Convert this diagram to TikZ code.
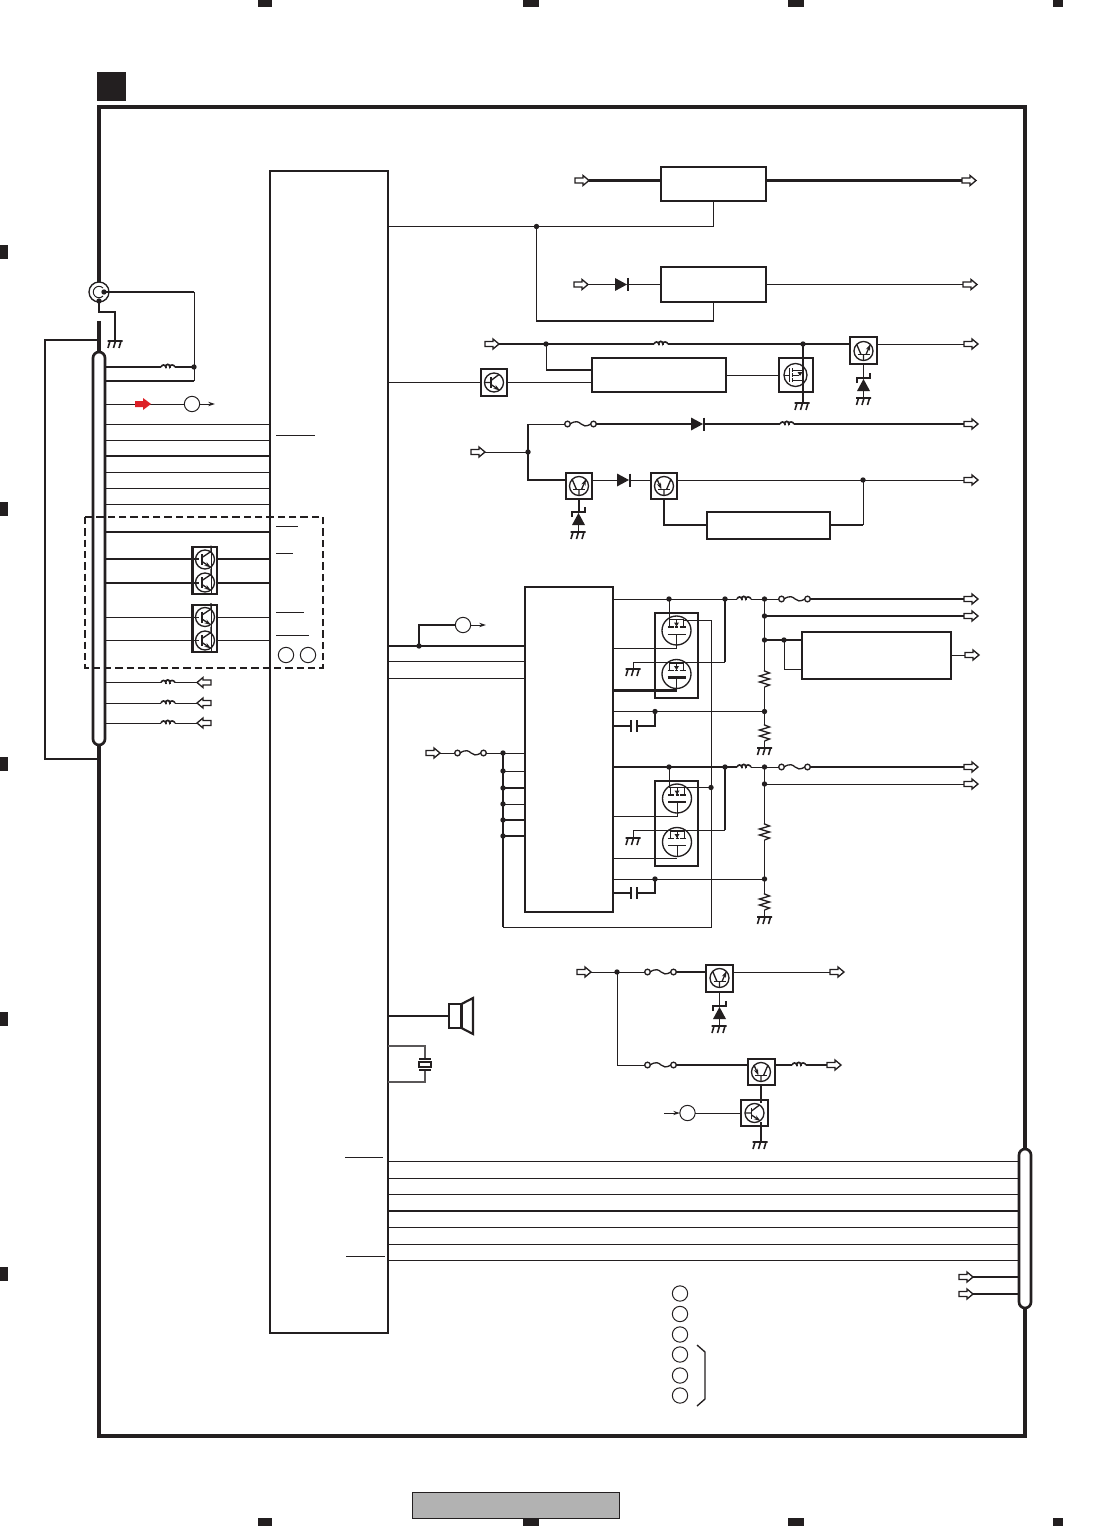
\documentclass[tikz,border=0pt]{standalone}
\usetikzlibrary{fit,arrows.meta,shapes.geometric}
\definecolor{ink}{HTML}{231F20}
\definecolor{redarrow}{HTML}{DD2027}
\definecolor{footer}{HTML}{B2B2B2}
\tikzset{
  wa/.style={line width=.75pt,draw=ink},
  wb/.style={line width=1.6pt,draw=ink},
  wc/.style={line width=1.2pt,draw=ink},
  blk/.style={draw=ink,line width=1.6pt,fill=white,inner sep=0pt,outer sep=0pt},
  ring/.style={circle,draw=ink,line width=.75pt,fill=white,minimum size=11.5pt,inner sep=0pt,outer sep=0pt},
  tip/.style={-{Stealth[length=5pt,width=3.2pt]}},
  busbar/.style={draw=ink,line width=2pt,fill=white,rounded corners=4.5pt}
}
\newcommand{\Blk}[5]{\node[blk,fit={(#2,#3)(#4,#5)}] (#1) {};}
\newcommand{\Dotx}[2]{\fill[ink] (#1,#2) circle[radius=2.7];}
\newcommand{\ArrR}[2]{\draw[wa,line width=1pt,fill=white,line join=miter] (#1,#2-2.5) -- ++(8,0) -- ++(0,-2.5) -- ++(6,5) -- ++(-6,5) -- ++(0,-2.5) -- ++(-8,0) -- cycle;}
\newcommand{\ArrL}[2]{\draw[wa,line width=1pt,fill=white,line join=miter] (#1,#2-2.5) -- ++(-8,0) -- ++(0,-2.5) -- ++(-6,5) -- ++(6,5) -- ++(0,-2.5) -- ++(8,0) -- cycle;}
\newcommand{\Gnd}[2]{\begin{scope}[shift={(#1,#2)}]\draw[wc] (-7.5,0)--(7.5,0) (-5,0)--(-7,7) (0.5,0)--(-1.5,7) (6,0)--(4,7);\end{scope}}
\newcommand{\Ind}[2]{\begin{scope}[shift={(#1,#2)}]\draw[wc] (0,0) .. controls (1,-2.5) and (4,-3) .. (4.8,0) .. controls (4.8,-3.5) and (8.6,-3.5) .. (8.8,0) .. controls (9,-3) and (13,-2.5) .. (14,0); \draw[wc] (4.8,0)--(4.8,1) (8.8,0)--(8.8,1);\end{scope}}
\newcommand{\Fuse}[2]{\begin{scope}[shift={(#1,#2)}]\draw[wa,line width=1pt] (5,0) .. controls (11,-4) and (14,-2) .. (16,0) .. controls (18,2) and (21,3) .. (26,0); \draw[wa,line width=1pt,fill=white] (2.5,0) circle[radius=2.8] (28.5,0) circle[radius=2.8];\end{scope}}
\newcommand{\Diode}[2]{\begin{scope}[shift={(#1,#2)}]\fill[ink] (0,-6.5)--(12,0)--(0,6.5)--cycle; \draw[ink,line width=1.5pt] (12.5,-6.5)--(12.5,6.5);\end{scope}}
\newcommand{\Zener}[2]{\begin{scope}[shift={(#1,#2)}]\draw[wc] (-6.5,5)--(-6.5,0)--(6.5,0)--(6.5,-5); \fill[ink] (0,1)--(-6.5,13)--(6.5,13)--cycle;\draw[wc] (0,13)--(0,20);\end{scope}}
\newcommand{\TrK}[2]{\begin{scope}[shift={(#1,#2)}]\draw[wa,line width=1pt] (0,0) circle[radius=9.5]; \draw[wc] (-3,-5.5)--(-3,5.5); \draw[wa,line width=1pt] (-9,0)--(-3,0) (-3,-2)--(5,-8); \draw[wa,line width=1pt,tip] (-3,2)--(6,8);\end{scope}}
\newcommand{\TrKr}[2]{\begin{scope}[shift={(#1,#2)}]\draw[wa,line width=1pt] (0,0) circle[radius=9.5]; \draw[wc] (-3,-5.5)--(-3,5.5); \draw[wa,line width=1pt] (-3,-2)--(6,-8) (6,-8)--(6,-14); \draw[wa,line width=1pt,tip] (-3,2)--(6,8);\end{scope}}
\newcommand{\TrUr}[2]{\begin{scope}[shift={(#1,#2)}]\draw[wa,line width=1pt] (0,0) circle[radius=9.5]; \draw[wc] (-6,3.5)--(6,3.5); \draw[wa,line width=1pt] (0,3.5)--(0,9.5) (-2.5,3.5)--(-7,-7); \draw[wa,line width=1pt,tip] (2.5,3.5)--(7,-7);\end{scope}}
\newcommand{\TrUl}[2]{\begin{scope}[shift={(#1,#2)}]\draw[wa,line width=1pt] (0,0) circle[radius=9.5]; \draw[wc] (-6,3.5)--(6,3.5); \draw[wa,line width=1pt] (0,3.5)--(0,9.5) (2.5,3.5)--(7,-7); \draw[wa,line width=1pt,tip] (-7,-7)--(-2.5,3.5);\end{scope}}
\newcommand{\MosF}[3]{\begin{scope}[shift={(#1,#2)}]\draw[wa,line width=1pt] (0,0) circle[radius=14.5]; \draw[wc] (-9,-3.5)--(-3,-3.5) (-1.5,-3.5)--(1.5,-3.5) (3,-3.5)--(9,-3.5); \draw[#3] (-9,3.5)--(9,3.5); \draw[wa] (-7,-11)--(-7,-3.5) (7,-11)--(7,-3.5) (0,3.5)--(0,14.5); \fill[ink] (-2.5,-8)--(2.5,-8)--(0,-4)--cycle; \draw[wa] (0,-11)--(0,-4) (-7,-11)--(7,-11);\end{scope}}
\newcommand{\Res}[2]{\draw[wa,line width=1pt] (#1,#2) -- ++(0,1) -- ++(5,2) -- ++(-10,3) -- ++(10,3) -- ++(-10,3) -- ++(10,3) -- ++(-5,2);}
\begin{document}
\begin{tikzpicture}[x=.75pt,y=-.75pt]
\useasboundingbox (0,0) rectangle (1104,1526);
% crop marks
\foreach \a/\b in {258/272,523/539,788/804,1053/1063}{
  \fill[ink] (\a,0) rectangle (\b,7);
  \fill[ink] (\a,1518) rectangle (\b,1526);}
\foreach \a in {245,502,757,1012,1267}{\fill[ink] (0,\a) rectangle (8,\a+14);}
\fill[ink] (97,72) rectangle (126,101);
\draw[draw=ink,line width=.5pt,fill=footer] (412,1492) rectangle (619.5,1518);
% frame
\draw[ink,line width=2.6pt,line join=miter] (99,282)--(99,107)--(1025,107)--(1025,1436)--(99,1436)--(99,745);
\draw[ink,line width=2.3pt] (99,321)--(99,352);
% main blocks
\Blk{ic}{270}{171}{388}{1333}
\Blk{bA}{661}{167}{766}{201}
\Blk{bB}{661}{267}{766}{302}
\Blk{bC}{592}{358}{726}{392}
\Blk{bD}{707}{512}{830}{539}
\Blk{icb}{525}{587}{613}{912}
\Blk{bE}{802}{632}{951}{679}
% --- top regulators
\draw[wb] (589,180.5)--(bA.west |- 0,180.5);
\draw[wb] (bA.east |- 0,180.5)--(962,180.5);
\ArrR{575}{180.5}\ArrR{962}{180.5}
\draw[wa] (ic.east |- 0,226.5)--(713.5,226.5)--(bA.south -| 713.5,0);
\draw[wb,line width=1.1pt] (536.5,226.5)--(536.5,321)--(713.5,321)--(bB.south -| 713.5,0);
\Dotx{536.5}{226.5}
\ArrR{574}{284.5}\draw[wa] (588,284.5)--(615,284.5);\Diode{615}{284.5}\draw[wa] (628,284.5)--(bB.west |- 0,284.5);
\draw[wa] (bB.east |- 0,284.5)--(963,284.5);\ArrR{963}{284.5}
% --- row 3
\ArrR{485}{344}
\draw[wb] (499,344)--(654,344) (668,344)--(850,344);
\Ind{654}{344}
\Dotx{546}{344}\Dotx{803}{344}
\draw[wa] (546,344)--(546,370);\draw[wb] (546,370)--(bC.west |- 0,370);
\draw[wa] (ic.east |- 0,382)--(481,382);
\Blk{qA}{481}{369}{507}{396}\TrK{494}{382.5}
\draw[wa] (qA.east |- 0,382)--(bC.west |- 0,382);
\draw[wa] (bC.east |- 0,375)--(785,375);
\Blk{qB}{779}{358}{813}{392}
\begin{scope}[shift={(795.5,375)}]
  \draw[wa,line width=1pt] (0,0) circle[radius=11.5];
  \draw[wa] (-11.5,0)--(-6,0);
  \draw[wc] (-6,-7)--(-6,7) (-3,-7)--(-3,-3) (-3,-2)--(-3,2) (-3,3)--(-3,7);
  \draw[wa] (-3,-5)--(7,-5) (-3,5)--(7,5) (-3,0)--(3,0);
  \fill[ink] (2,-3)--(7,-3)--(4.5,1)--cycle;
\end{scope}
\draw[wb,line width=1.3pt] (803,344)--(803,403);\Gnd{802}{403}
\Blk{qC}{850}{337}{877}{364}\TrUr{863.5}{351}
\draw[wa] (qC.east |- 0,344)--(964,344);\ArrR{964}{344}
\draw[wa] (863.5,364)--(863.5,378);\Zener{863.5}{378}\Gnd{863.5}{398}
% --- row 4
\ArrR{471}{452}\draw[wa] (485,452)--(528,452);
\draw[wb] (528,424)--(528,480)--(566,480);
\draw[wa] (528,424)--(565,424);\Dotx{528}{452}
\Fuse{565}{424}
\draw[wb] (596,424)--(691,424);\Diode{691}{424}\draw[wb] (704,424)--(780,424);
\Ind{780}{424}\draw[wb] (794,424)--(964,424);\ArrR{964}{424}
\Blk{qD}{566}{473}{592}{499}\TrUr{579}{486}
\draw[wa] (qD.east |- 0,480)--(617,480);\Diode{617}{480}\draw[wa] (630,480)--(651,480);
\Blk{qE}{651}{473}{677}{499}\TrUl{664}{486}
\draw[wa] (qE.east |- 0,480)--(964,480);\ArrR{964}{480}
\Dotx{863}{480}
\draw[wa] (863,480)--(863,525);\draw[wb] (863,525)--(bD.east |- 0,525);
\draw[wc] (qE.south)--(664,525)--(bD.west |- 0,525);
\draw[wa,line width=1pt] (579,499)--(579,512);\Zener{578.5}{512}\Gnd{578}{532}
% --- left connector
\draw[ink,line width=1pt,fill=white] (99,292) circle[radius=10];
\draw[ink,line width=.7pt] (103,288) arc[start angle=-45,end angle=-315,radius=5.7];
\Dotx{104}{292}\Dotx{99}{301}
\draw[wb] (104,292)--(194,292);\draw[wa] (194,292)--(194,381);
\draw[wb] (194,381)--(106,381);
\draw[wb] (106,367)--(161,367) (175,367)--(194,367);\Ind{161}{367}\Dotx{194}{367}
\draw[wc] (99,301)--(99,312)--(115,312)--(115,341);\Gnd{115}{341}
\draw[wc] (99,340)--(45,340)--(45,759)--(99,759);
\draw[ink,line width=2.3pt] (99,745)--(99,770);
\node[busbar,fit={(93,352)(105,745)},inner sep=0pt] (busL) {};
\draw[wa] (busL.east |- 0,404)--(185,404);
\fill[redarrow] (135,401)--(143,401)--(143,398)--(151,404)--(143,410)--(143,407)--(135,407)--cycle;
\node[ring] (rA) at (192,404) {};
\draw[wa,tip] (rA.east)--(215,404);
\foreach \yy in {424.5,440,472,488,504,617.5,640}{\draw[wa] (busL.east |- 0,\yy)--(ic.west |- 0,\yy);}
\foreach \yy in {456,532,559,583}{\draw[wb,line width=1.4pt] (busL.east |- 0,\yy)--(ic.west |- 0,\yy);}
\draw[wa] (276,435)--(315,435) (276,526)--(298,526) (276,553)--(293,553) (276,612)--(304,612) (276,635)--(309,635);
\Blk{qF}{192.5}{547}{217}{594}
\Blk{qG}{192.5}{605}{217}{652}
\draw[wb,line width=1.4pt] (busL.east |- 0,559)--(199,559) (busL.east |- 0,583)--(199,583) (qF.east |- 0,559)--(ic.west |- 0,559) (qF.east |- 0,583)--(ic.west |- 0,583);
\draw[wa] (busL.east |- 0,617.5)--(199,617.5) (busL.east |- 0,640)--(199,640) (qG.east |- 0,617.5)--(ic.west |- 0,617.5) (qG.east |- 0,640)--(ic.west |- 0,640);
\TrKr{205}{559.5}\TrKr{205}{582.5}\TrKr{205}{617}\TrKr{205}{640.5}
\draw[wa] (211,547)--(211,594) (211,605)--(211,652);
\node[ring] (rB) at (286,655) {};\node[ring] (rC) at (308,655) {};
\draw[draw=ink,line width=.85pt,dash pattern=on 5.5pt off 3pt] (85,517) rectangle (323,668);
\foreach \yy in {682.5,703,723}{
  \draw[wa] (busL.east |- 0,\yy)--(161,\yy) (175,\yy)--(197,\yy);
  \Ind{161}{\yy}\ArrL{211}{\yy}}
% --- second IC connections
\draw[wb] (ic.east |- 0,646)--(icb.west |- 0,646);
\draw[wa] (ic.east |- 0,661)--(icb.west |- 0,661) (ic.east |- 0,678)--(icb.west |- 0,678);
\Dotx{419}{646}
\node[ring] (rD) at (463,625) {};
\draw[wc] (419,646)--(419,625)--(rD.west);
\draw[wa,tip] (rD.east)--(486,625);
\ArrR{426}{753}\draw[wa] (440,753)--(455,753);\Fuse{455}{753}
\draw[wa] (486,753)--(icb.west |- 0,753);
\draw[wa] (711,620)--(711,927)--(503,927);
\draw[wb,line width=1.4pt] (503,753)--(503,927);
\foreach \yy in {753,771,788,804,820,836}{\Dotx{503}{\yy}}
\draw[wa] (503,771)--(525,771) (503,804)--(525,804);
\draw[wb] (503,788)--(525,788) (503,820)--(525,820) (503,836)--(525,836);
% upper half-bridge
\draw[wa] (icb.east |- 0,599)--(737,599);
\Ind{737}{599}\draw[wa] (751,599)--(779,599);\Fuse{779}{599}
\draw[wb] (810,599)--(964,599);\ArrR{964}{599}
\Dotx{669}{599}\Dotx{725}{599}\Dotx{764.5}{599}
\Blk{mA}{655}{613}{698}{698}
\MosF{676.5}{630.5}{wa}\MosF{676.5}{674}{wb}
\draw[wa] (669,599)--(669,620) (683.5,620)--(711,620);
\draw[wb] (725,599)--(725,662);
\draw[wa] (725,662)--(633.5,662)--(633.5,669);\Gnd{633}{669}
\draw[wa] (icb.east |- 0,648)--(676.5,648)--(676.5,645);
\draw[wb] (icb.east |- 0,690.5)--(676.5,690.5);
\draw[wa] (icb.east |- 0,711.5)--(764.5,711.5);
\Dotx{655}{711.5}\Dotx{764.5}{711.5}
\draw[wb] (icb.east |- 0,726)--(631,726) (637,726)--(655,726)--(655,711.5);
\draw[wb] (631,720)--(631,732) (637,720)--(637,732);
\draw[wb,line width=1.1pt] (764.5,599)--(764.5,670);
\Res{764.5}{670}
\draw[wa,line width=1.1pt] (764.5,687)--(764.5,724);\Res{764.5}{724}\Gnd{764.5}{748}
\draw[wa] (764.5,741)--(764.5,748);
\Dotx{764.5}{616}\draw[wb] (764.5,616)--(964,616);\ArrR{964}{616}
\Dotx{764.5}{640}\Dotx{784}{640}
\draw[wb] (764.5,640)--(bE.west |- 0,640);
\draw[wa] (784,640)--(784,669)--(bE.west |- 0,669);
\draw[wa] (bE.east |- 0,655)--(965,655);\ArrR{965}{655}
% lower half-bridge
\draw[wb] (icb.east |- 0,767)--(737,767);
\Ind{737}{767}\draw[wa] (751,767)--(779,767);\Fuse{779}{767}
\draw[wb] (810,767)--(964,767);\ArrR{964}{767}
\Dotx{669}{767}\Dotx{725}{767}\Dotx{764.5}{767}
\Blk{mB}{655}{781}{698}{866}
\MosF{677}{798.5}{wb}\MosF{677}{842}{wa}
\draw[wa] (669,767)--(669,787.5) (684,787.5)--(711,787.5);
\Dotx{711}{787.5}
\draw[wb] (725,767)--(725,830);
\draw[wa] (725,830)--(633.5,830)--(633.5,837);\Gnd{633}{838}
\draw[wa] (icb.east |- 0,816)--(677,816)--(677,813);
\draw[wa] (icb.east |- 0,858)--(677,858);
\draw[wa] (icb.east |- 0,879)--(764.5,879);
\Dotx{655}{879}\Dotx{764.5}{879}
\draw[wb] (icb.east |- 0,893)--(631,893) (637,893)--(655,893)--(655,879);
\draw[wb] (631,887)--(631,899) (637,887)--(637,899);
\draw[wb,line width=1.1pt] (764.5,767)--(764.5,823);
\Res{764.5}{823}
\draw[wa,line width=1.1pt] (764.5,840)--(764.5,893);\Res{764.5}{893}\Gnd{764.5}{917}
\draw[wa] (764.5,910)--(764.5,917);
\Dotx{764.5}{784}\draw[wa] (764.5,784)--(964,784);\ArrR{964}{784}
% --- speaker and crystal
\Blk{spk}{449}{1004}{461.5}{1028}
\draw[wb] (ic.east |- 0,1016)--(spk.west);
\draw[wb,line join=miter] (461.5,1004)--(473,998)--(473,1034)--(461.5,1028);
\draw[draw=ink!75,line width=1.2pt] (ic.east |- 0,1046)--(425,1046)--(425,1058) (425,1070)--(425,1082)--(ic.east |- 0,1082);
\draw[wc,line width=1.5pt] (419,1058.5)--(431,1058.5) (419,1070)--(431,1070);
\draw[wa,line width=1pt,fill=white] (419,1062)rectangle(431,1067);
% --- lower regulators
\ArrR{577}{972}\draw[wa] (591,972)--(645,972);\Dotx{617}{972}\Fuse{645}{972}
\draw[wb] (676,972)--(706,972);
\Blk{qH}{706}{965}{733}{992}\TrUr{719.5}{978}
\draw[wa] (qH.east |- 0,972)--(830,972);\ArrR{830}{972}
\draw[wa,line width=1pt] (719.5,992)--(719.5,1006);\Zener{719.5}{1006}\Gnd{719}{1026}
\draw[wa] (617,972)--(617,1065)--(645,1065);\Fuse{645}{1065}
\draw[wb] (676,1065)--(748,1065);
\Blk{qI}{748}{1059}{775}{1085}\TrUl{761}{1072}
\draw[wb] (qI.east |- 0,1065)--(792,1065);\Ind{792}{1065}\draw[wb] (806,1065)--(827,1065);\ArrR{827}{1065}
\Blk{qJ}{741}{1100}{768}{1126}\TrK{754.5}{1113}
\draw[wb] (761,1085)--(761,1103) (761,1122)--(761,1142);\Gnd{760}{1142}
\node[ring] (rE) at (687.5,1113) {};
\coordinate (inE) at (664,1113);
\draw[wa,tip] (inE)--(rE.west);
\draw[wa] (rE.east)--(qJ.west);
% --- right bus
\node[busbar,fit={(1019,1149)(1031,1308)},inner sep=0pt] (busR) {};
\foreach \yy in {1161.5,1178,1194.5,1227,1244,1260.5}{\draw[wa] (ic.east |- 0,\yy)--(busR.west |- 0,\yy);}
\draw[wb] (ic.east |- 0,1211)--(busR.west |- 0,1211);
\draw[wa] (345,1157)--(383,1157) (346,1256)--(385,1256);
\ArrR{959}{1277}\ArrR{959}{1294}
\draw[wb] (973,1277)--(busR.west |- 0,1277) (973,1294)--(busR.west |- 0,1294);
% --- legend
\foreach \n/\yy in {a/1293.5,b/1314,c/1334.5,d/1354.5,e/1375.5,f/1395.5}{\node[ring] (leg\n) at (680,\yy) {};}
\draw[wa,line width=1pt] (697,1345)--(705,1352)--(705,1399)--(697,1406);
\end{tikzpicture}
\end{document}
